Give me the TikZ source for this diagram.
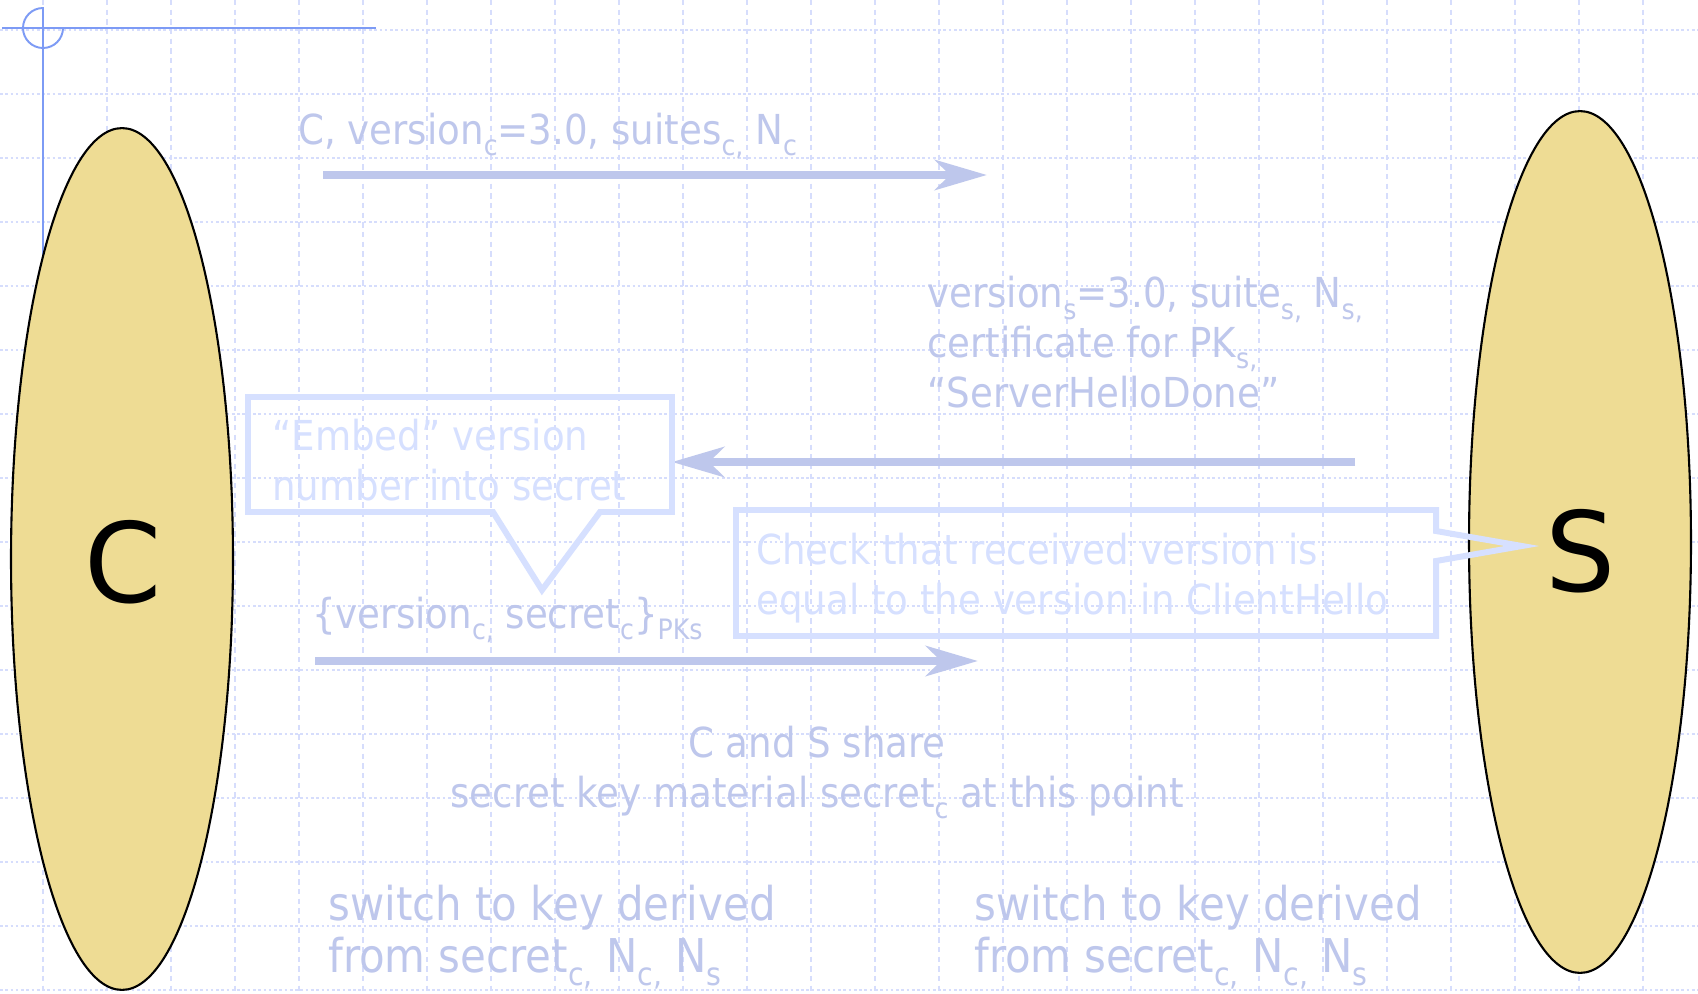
\documentclass[tikz,border=0pt]{standalone}
\usepackage{fontspec}
\setmainfont{DejaVu Sans Condensed}
\newfontfamily\partyfont{DejaVu Sans}
\usetikzlibrary{arrows.meta,shapes.geometric}

\definecolor{msgblue}{RGB}{190,199,236}
\definecolor{noteblue}{RGB}{214,224,255}
\definecolor{gridblue}{RGB}{214,221,252}
\definecolor{guideblue}{RGB}{125,155,245}
\definecolor{partyfill}{RGB}{238,220,148}

\makeatletter
\newcommand\subs[1]{\raisebox{-0.28em}{\fontsize{\fpeval{0.68*\f@size}}{1}\selectfont #1}}
\makeatother

\begin{document}
\begin{tikzpicture}[x=0.02cm, y=-0.02cm,
  party/.style={ellipse, draw=black, line width=1.2pt, fill=partyfill,
    minimum width=4.44cm, minimum height=17.24cm, inner sep=0},
  partyname/.style={font=\partyfont\fontsize{63}{63}\selectfont, inner sep=0},
  msg/.style={text=msgblue, font=\fontsize{23.5}{28.3}\selectfont,
    anchor=base west, align=left, inner sep=0},
  note/.style={msg, text=noteblue},
  msgarrow/.style={draw=msgblue, line width=5.1pt,
    -{Stealth[length=29.5pt, width=17pt, inset=8.5pt]}},
  callout/.style={draw=noteblue, line width=3.4pt, line join=miter}]
\useasboundingbox[fill=white] (0,0) rectangle (1698,994);

% dashed grid
\foreach \gx in {43,107,...,1698}
  \draw[gridblue, line width=0.8pt, dash pattern=on 3pt off 2.5pt] (\gx,0) -- (\gx,994);
\foreach \gy in {30,94,...,994}
  \draw[gridblue, line width=0.8pt, dash pattern=on 1.5pt off 1.5pt] (0,\gy) -- (1698,\gy);

% guides
\draw[guideblue, line width=1.1pt] (2,28) -- (376,28);
\draw[guideblue, line width=1.1pt] (43,7) -- (43,420);
\draw[guideblue, line width=1.1pt] (63,28) arc[start angle=0, end angle=270, radius=20];

% client and server
\node[party] (client) at (122,559) {};
\node[partyname] (clientname) at (123,562) {C};
\node[party] (server) at (1580,542) {};
\node[partyname] (servername) at (1581,551) {S};

% messages
\coordinate (hello from) at (323,175);
\coordinate (hello to) at (987,175);
\coordinate (reply from) at (1355,462);
\coordinate (reply to) at (672,462);
\coordinate (key from) at (315,661);
\coordinate (key to) at (978,661);
\draw[msgarrow] (hello from) -- (hello to);
\draw[msgarrow] (reply from) -- (reply to);
\draw[msgarrow] (key from) -- (key to);

% multi-line texts sit on the baseline of their last line
\node[msg] (clienthello) at (298,144) {C, version\subs{c}=3.0, suites\subs{c,} N\subs{c}};
\node[msg] (serverhello) at (927,407) {version\subs{s}=3.0, suite\subs{s,} N\subs{s,}\\certificate for PK\subs{s,}\\“ServerHelloDone”};
\node[msg] (keyexchange) at (312,628) {\{version\subs{c,} secret\subs{c}\}\subs{PKs}};

% callouts
\draw[callout] (248,397) -- (672,397) -- (672,512) -- (600,512) -- (542,590) -- (493,512) -- (248,512) -- cycle;
\node[note] (embednote) at (272,500) {“Embed” version\\number into secret};
\draw[callout] (736,510) -- (1436,510) -- (1436,531) -- (1522,546) -- (1436,561) -- (1436,636) -- (736,636) -- cycle;
\node[note] (checknote) at (756,614) {Check that received version is\\equal to the version in ClientHello};

\node[msg, anchor=base, align=center] (sharetext) at (817,807) {C and S share\\secret key material secret\subs{c} at this point};
\node[msg, font=\fontsize{26.5}{29.5}\selectfont] (clientswitch) at (328,972) {switch to key derived\\from secret\subs{c,} N\subs{c,} N\subs{s}};
\node[msg, font=\fontsize{26.5}{29.5}\selectfont] (serverswitch) at (974,972) {switch to key derived\\from secret\subs{c,} N\subs{c,} N\subs{s}};
\end{tikzpicture}
\end{document}
